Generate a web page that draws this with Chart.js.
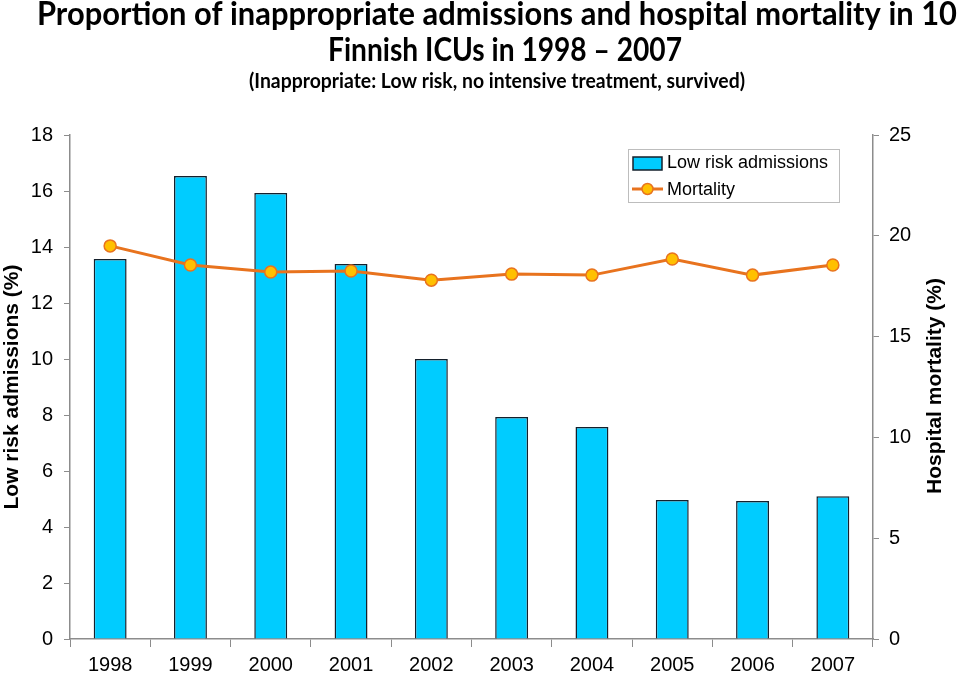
<!DOCTYPE html>
<html>
<head>
<meta charset="utf-8">
<script src="https://cdn.jsdelivr.net/npm/chart.js@4"></script>
<style>
  html, body { margin: 0; padding: 0; background: #fff; }
  #wrap { width: 960px; height: 678px; }
</style>
</head>
<body>
<div id="wrap"><canvas id="icuChart" width="960" height="678"></canvas></div>
<script>
// Data
const years = ['1998', '1999', '2000', '2001', '2002', '2003', '2004', '2005', '2006', '2007'];
const lowRiskAdmissions = [13.57, 16.54, 15.93, 13.39, 10.0, 7.93, 7.57, 4.96, 4.93, 5.1];
const hospitalMortality = [19.5, 18.55, 18.2, 18.25, 17.8, 18.1, 18.05, 18.85, 18.05, 18.55];
const leftTicks = [0, 2, 4, 6, 8, 10, 12, 14, 16, 18];
const rightTicks = [0, 5, 10, 15, 20, 25];

const titleLines = ['Proportion of inappropriate admissions and hospital mortality in 10', 'Finnish ICUs in 1998 \u2013 2007'];
const subtitleText = '(Inappropriate: Low risk, no intensive treatment, survived)';
const rightTitle = 'Hospital mortality (%)';

const barFill = '#00CCFF';
const barEdge = '#14202C';
const lineColor = '#E8731E';
const pointFill = '#FFC000';
const axisGray = '#8C8C8C';
const tickFont = { family: 'Liberation Sans', size: 20 };

// draw text squeezed horizontally to a given width (Calibri-like look)
function fitText(ctx, text, cx, cy, width) {
    const w = ctx.measureText(text).width;
    ctx.save();
    ctx.translate(cx, cy);
    ctx.scale(width / w, 1);
    ctx.fillText(text, 0, 0);
    ctx.restore();
}

const titlePlugin = {
    id: 'titleLines',
    afterDraw(chart) {
        const ctx = chart.ctx;
        ctx.save();
        ctx.fillStyle = '#000';
        ctx.textAlign = 'center';
        ctx.textBaseline = 'middle';
        ctx.font = 'bold 32px Lato';
        fitText(ctx, titleLines[0], 497, 15, 920);
        fitText(ctx, titleLines[1], 505, 51, 354);
        ctx.font = 'bold 20px Lato';
        fitText(ctx, subtitleText, 497, 82, 496);

        // right axis title, reading bottom to top
        ctx.font = 'bold 21px "Liberation Sans"';
        ctx.translate(935, 386);
        ctx.rotate(-Math.PI / 2);
        ctx.fillText(rightTitle, 0, 0);
        ctx.restore();
    }
};

// Legend box inside the plot area, top right
const legendPlugin = {
    id: 'insideLegend',
    afterDatasetsDraw(chart) {
        const ctx = chart.ctx;
        const bar = chart.data.datasets.find(d => d.type === 'bar');
        const line = chart.data.datasets.find(d => d.type === 'line');
        ctx.save();
        ctx.fillStyle = '#fff';
        ctx.fillRect(628, 149, 212, 54);
        ctx.strokeStyle = '#BDBDBD';
        ctx.lineWidth = 1;
        ctx.strokeRect(628.5, 149.5, 211, 53);

        ctx.fillStyle = bar.backgroundColor;
        ctx.fillRect(633, 157, 29, 13);
        ctx.strokeStyle = bar.borderColor;
        ctx.lineWidth = 1.5;
        ctx.strokeRect(633, 157, 29, 13);

        ctx.strokeStyle = line.borderColor;
        ctx.lineWidth = 3;
        ctx.beginPath();
        ctx.moveTo(632, 189);
        ctx.lineTo(663, 189);
        ctx.stroke();
        ctx.beginPath();
        ctx.arc(647.5, 189, 5.5, 0, Math.PI * 2);
        ctx.fillStyle = line.pointBackgroundColor;
        ctx.fill();
        ctx.lineWidth = 1.5;
        ctx.stroke();

        ctx.fillStyle = '#000';
        ctx.font = '18px "Liberation Sans"';
        ctx.textAlign = 'left';
        ctx.textBaseline = 'middle';
        ctx.fillText(bar.label, 667, 163);
        ctx.fillText(line.label, 667, 190);
        ctx.restore();
    }
};

new Chart(document.getElementById('icuChart'), {
    data: {
        labels: years,
        datasets: [
            {
                type: 'line',
                label: 'Mortality',
                data: hospitalMortality,
                yAxisID: 'yRight',
                borderColor: lineColor,
                borderWidth: 3,
                pointBackgroundColor: pointFill,
                pointBorderColor: lineColor,
                pointBorderWidth: 1.5,
                pointRadius: 6,
                tension: 0,
                order: 0
            },
            {
                type: 'bar',
                label: 'Low risk admissions',
                data: lowRiskAdmissions,
                yAxisID: 'yLeft',
                backgroundColor: barFill,
                borderColor: barEdge,
                borderWidth: 1.5,
                barPercentage: 0.41,
                categoryPercentage: 1,
                order: 1
            }
        ]
    },
    options: {
        responsive: false,
        animation: false,
        layout: { padding: { top: 135, left: 0, right: 0, bottom: 0 } },
        plugins: {
            legend: { display: false },
            tooltip: { enabled: false }
        },
        scales: {
            x: {
                offset: true,
                grid: {
                    offset: true,
                    drawOnChartArea: false,
                    drawTicks: true,
                    tickLength: 8,
                    color: axisGray
                },
                border: { color: axisGray, width: 1.5 },
                ticks: { color: '#000', font: tickFont, padding: 6, maxRotation: 0 },
                afterFit(scale) { scale.height = 39; }
            },
            yLeft: {
                position: 'left',
                min: 0,
                max: 18,
                afterBuildTicks(scale) { scale.ticks = leftTicks.map(v => ({ value: v })); },
                grid: { drawOnChartArea: false, tickLength: 6, color: axisGray },
                border: { color: axisGray, width: 1.5 },
                ticks: { color: '#000', font: tickFont, padding: 11 },
                title: {
                    display: true,
                    text: 'Low risk admissions (%)',
                    color: '#000',
                    font: { family: 'Liberation Sans', size: 21, weight: 'bold' },
                    padding: { top: 0, bottom: 0 }
                },
                afterFit(scale) { scale.width = 70; }
            },
            yRight: {
                position: 'right',
                min: 0,
                max: 25,
                afterBuildTicks(scale) { scale.ticks = rightTicks.map(v => ({ value: v })); },
                grid: { drawOnChartArea: false, tickLength: 6, color: axisGray },
                border: { color: axisGray, width: 1.5 },
                ticks: { color: '#000', font: tickFont, padding: 10 },
                afterFit(scale) { scale.width = 87; }
            }
        }
    },
    plugins: [titlePlugin, legendPlugin]
});
</script>
</body>
</html>
